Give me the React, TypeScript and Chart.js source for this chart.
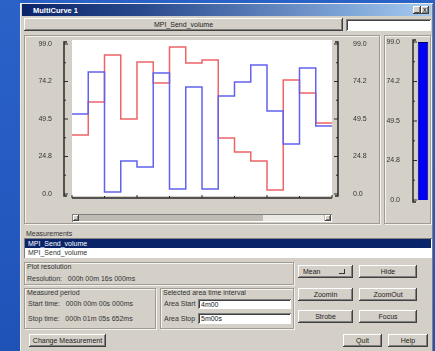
import React, { useEffect, useRef } from "react";
import { Chart, registerables } from "chart.js";

Chart.register(...registerables);

// ---- data ----
const stepTimeLabels = ["000h 00m 49s 852ms", "000h 01m 05s 852ms"];
const redValues = [38.9, 60.7, 91.7, 49.5, 87.1, 73.3, 97.0, 86.5, 88.4, 37.0, 27.7, 21.8, 2.6, 75.2, 66.7, 46.9];
const blueValues = [52.8, 80.5, 1.3, 21.8, 17.8, 79.9, 3.3, 70.6, 3.3, 64.7, 73.9, 85.1, 54.8, 33.0, 83.2, 44.9];
const yTickValues = [0, 24.75, 49.5, 74.25, 99];
const yTickLabels = ["0.0", "24.8", "49.5", "74.2", "99.0"];
const barCategories = ["MPI_Send_volume"];
const barValues = [99];

const FONT = "'Liberation Sans', Arial, sans-serif";
const GREY = "#d4d0c8";
const AXIS = "#2a2a2a";

function stepPoints(vals: number[]) {
  const pts = vals.map((v, i) => ({ x: i, y: v }));
  pts.push({ x: vals.length, y: vals[vals.length - 1] });
  return pts;
}

const noPad = (s: any) => {
  s.paddingTop = 0;
  s.paddingBottom = 0;
  s.paddingLeft = 0;
  s.paddingRight = 0;
};

const bracketPlugin = (opts: { lo: number; ro: number | null; bottom: boolean }) => ({
  id: "bracketAxes",
  beforeDatasetsDraw(chart: any) {
    const { ctx, chartArea } = chart;
    ctx.save();
    if (opts.bottom) {
      ctx.fillStyle = "#ffffff";
      ctx.fillRect(chartArea.left, chartArea.top, chartArea.right - chartArea.left, chartArea.bottom - chartArea.top);
    }
    ctx.restore();
  },
  afterDraw(chart: any) {
    const { ctx, chartArea } = chart;
    const y = chart.scales.y;
    const top = y.getPixelForValue(99);
    const bot = y.getPixelForValue(0);
    ctx.save();
    ctx.strokeStyle = AXIS;
    const drawBracket = (ax: number, dir: number) => {
      ctx.lineWidth = 1.5;
      ctx.beginPath();
      ctx.moveTo(ax + dir * 3, top - 2);
      ctx.lineTo(ax, top - 2);
      ctx.lineTo(ax, bot + 2);
      ctx.lineTo(ax + dir * 3, bot + 2);
      ctx.stroke();
      ctx.lineWidth = 1;
      for (let i = 0; i < yTickValues.length; i++) {
        const py = y.getPixelForValue(yTickValues[i]);
        ctx.beginPath();
        ctx.moveTo(ax, py);
        ctx.lineTo(ax + dir * 4, py);
        ctx.stroke();
        if (i < yTickValues.length - 1) {
          const pm = y.getPixelForValue((yTickValues[i] + yTickValues[i + 1]) / 2);
          ctx.beginPath();
          ctx.moveTo(ax, pm);
          ctx.lineTo(ax + dir * 2, pm);
          ctx.stroke();
        }
      }
    };
    drawBracket(chartArea.left - opts.lo, 1);
    if (opts.ro !== null) drawBracket(chartArea.right + opts.ro, -1);
    if (opts.bottom) {
      const x = chart.scales.x;
      const by = chartArea.bottom + 2;
      ctx.lineWidth = 1.5;
      ctx.beginPath();
      ctx.moveTo(chartArea.left, by);
      ctx.lineTo(chartArea.right, by);
      ctx.stroke();
      ctx.lineWidth = 1;
      for (let i = 0; i <= redValues.length; i += 2) {
        const px = x.getPixelForValue(i);
        ctx.beginPath();
        ctx.moveTo(px, by);
        ctx.lineTo(px, by - (i % 4 === 0 ? 3 : 2));
        ctx.stroke();
      }
    }
    ctx.restore();
  },
});

function MainChart() {
  const ref = useRef<HTMLCanvasElement>(null);
  useEffect(() => {
    const chart = new Chart(ref.current as HTMLCanvasElement, {
      type: "line",
      data: {
        datasets: [
          {
            label: "blue",
            data: stepPoints(blueValues),
            borderColor: "#6262ee",
            borderWidth: 1.5,
            pointRadius: 0,
            stepped: true,
            fill: false,
          },
          {
            label: "red",
            data: stepPoints(redValues),
            borderColor: "#ee6468",
            borderWidth: 1.5,
            pointRadius: 0,
            stepped: true,
            fill: false,
          },
        ],
      },
      options: {
        animation: false,
        responsive: false,
        maintainAspectRatio: false,
        layout: { padding: { top: 6, right: 0, left: 0, bottom: 0 } },
        plugins: { legend: { display: false }, tooltip: { enabled: false } },
        scales: {
          x: {
            type: "linear",
            min: 0,
            max: redValues.length,
            grid: { display: false },
            border: { display: false },
            afterBuildTicks: (s: any) => {
              s.ticks = [{ value: 0 }, { value: redValues.length }];
            },
            afterFit: (s: any) => {
              s.height = 14;
              noPad(s);
            },
            ticks: {
              align: "inner",
              padding: 7,
              maxRotation: 0,
              autoSkip: false,
              color: "#333",
              font: { family: FONT, size: 7 },
              callback: (_v: any, i: number) => stepTimeLabels[i],
            },
          },
          y: {
            position: "left",
            min: -1.32,
            max: 101.64,
            grid: { display: false },
            border: { display: false },
            afterBuildTicks: (s: any) => {
              s.ticks = yTickValues.map((v) => ({ value: v }));
            },
            afterFit: (s: any) => {
              s.width = 48;
              noPad(s);
            },
            ticks: {
              padding: 12,
              color: "#333",
              font: { family: FONT, size: 7 },
              callback: (_v: any, i: number) => yTickLabels[i],
            },
          },
          y2: {
            position: "right",
            min: -1.32,
            max: 101.64,
            grid: { display: false },
            border: { display: false },
            afterBuildTicks: (s: any) => {
              s.ticks = yTickValues.map((v) => ({ value: v }));
            },
            afterFit: (s: any) => {
              s.width = 48;
              noPad(s);
            },
            ticks: {
              padding: 13,
              color: "#333",
              font: { family: FONT, size: 7 },
              callback: (_v: any, i: number) => yTickLabels[i],
            },
          },
        },
      } as any,
      plugins: [bracketPlugin({ lo: 8, ro: 6, bottom: true }) as any],
    });
    return () => chart.destroy();
  }, []);
  return (
    <canvas
      ref={ref}
      width={356}
      height={176}
      style={{ position: "absolute", left: 24, top: 34, width: 356, height: 176 }}
    />
  );
}

function BarChart() {
  const ref = useRef<HTMLCanvasElement>(null);
  useEffect(() => {
    const chart = new Chart(ref.current as HTMLCanvasElement, {
      type: "bar",
      data: {
        labels: barCategories,
        datasets: [
          {
            data: barValues,
            backgroundColor: "#0000f4",
            borderColor: "#00006a",
            borderWidth: 1,
            categoryPercentage: 1,
            barPercentage: 0.75,
          },
        ],
      },
      options: {
        animation: false,
        responsive: false,
        maintainAspectRatio: false,
        layout: { padding: { top: 8, right: 1, left: 0, bottom: 6 } },
        plugins: { legend: { display: false }, tooltip: { enabled: false } },
        scales: {
          x: { display: false },
          y: {
            min: 0,
            max: 99,
            grid: { display: false },
            border: { display: false },
            afterBuildTicks: (s: any) => {
              s.ticks = yTickValues.map((v) => ({ value: v }));
            },
            afterFit: (s: any) => {
              s.width = 32;
              noPad(s);
            },
            ticks: {
              padding: 8,
              color: "#333",
              font: { family: FONT, size: 7 },
              callback: (_v: any, i: number) => yTickLabels[i],
            },
          },
        },
      } as any,
      plugins: [bracketPlugin({ lo: 3, ro: null, bottom: false }) as any],
    });
    return () => chart.destroy();
  }, []);
  return (
    <canvas
      ref={ref}
      width={47}
      height={172}
      style={{ position: "absolute", left: 384, top: 34, width: 47, height: 172 }}
    />
  );
}

const raised: React.CSSProperties = {
  background: GREY,
  boxShadow: "inset -1px -1px #404040, inset 1px 1px #ffffff, inset -2px -2px #808080",
};
const sunken: React.CSSProperties = {
  background: "#ffffff",
  boxShadow: "inset 1px 1px #808080, inset -1px -1px #ffffff, inset 2px 2px #404040",
};
const etched: React.CSSProperties = {
  border: "1px solid #a09c94",
  boxShadow: "1px 1px #f4f2ee, inset 1px 1px #f4f2ee",
};

function Btn(p: { x: number; y: number; w: number; h: number; label: string; menu?: boolean; align?: string }) {
  return (
    <div
      style={{
        ...raised,
        position: "absolute",
        left: p.x,
        top: p.y,
        width: p.w,
        height: p.h,
        fontSize: 7,
        lineHeight: p.h + "px",
        textAlign: (p.align as any) || "center",
        paddingLeft: p.align ? 5 : 0,
        boxSizing: "border-box",
        color: "#222",
      }}
    >
      {p.label}
      {p.menu ? (
        <span style={{ position: "absolute", right: 8, top: 4, width: 5, height: 4, borderRight: "1px solid #333", borderBottom: "1px solid #333" }} />
      ) : null}
    </div>
  );
}

function Txt(p: { x: number; y: number; t: string; c?: string; b?: boolean; s?: number }) {
  return (
    <div
      style={{
        position: "absolute",
        left: p.x,
        top: p.y,
        fontSize: p.s || 7,
        lineHeight: "9px",
        whiteSpace: "pre",
        color: p.c || "#333",
        fontWeight: p.b ? "bold" : "normal",
      }}
    >
      {p.t}
    </div>
  );
}

function Box(p: { x: number; y: number; w: number; h: number; style: React.CSSProperties }) {
  return (
    <div style={{ position: "absolute", left: p.x, top: p.y, width: p.w, height: p.h, boxSizing: "border-box", ...p.style }} />
  );
}

export default function App() {
  return (
    <div
      style={{
        position: "fixed",
        left: 0,
        top: 0,
        width: 435,
        height: 351,
        overflow: "hidden",
        background: "linear-gradient(180deg, #2a62c8 0%, #2459c0 60%, #1f52b6 100%)",
        fontFamily: FONT,
      }}
    >
      {/* window */}
      <Box x={20} y={3} w={413} h={352} style={{ background: GREY, boxShadow: "inset 1px 1px #efede8, inset -1px 0 #808080" }} />
      {/* title bar */}
      <Box x={22} y={4} w={409} h={12} style={{ background: "linear-gradient(90deg, #0a246a 0%, #2a4a8e 30%, #7fa6d8 80%, #a6caf0 100%)" }} />
      <Txt x={33} y={5.5} t="MultiCurve 1" c="#ffffff" b s={7.5} />
      <Box x={413} y={6} w={8} h={8} style={{ ...raised }} />
      <Box x={421} y={6} w={8} h={8} style={{ ...raised }} />
      <Txt x={415} y={4} t="_" c="#000" s={7} />
      <Txt x={423} y={4.5} t="x" c="#000" s={7} />

      {/* header */}
      <Btn x={24} y={18} w={319} h={13} label="MPI_Send_volume" />
      <Box x={346} y={19} w={85} h={12} style={sunken} />

      {/* chart panels */}
      <Box x={24} y={35} w={356} h={189} style={etched} />
      <Box x={384} y={35} w={47} h={189} style={etched} />
      <MainChart />
      <BarChart />
      {/* scrollbar */}
      <Box x={72} y={214} w={260} h={8} style={{ background: "#bdbab2", boxShadow: "inset 1px 1px #808080, inset -1px -1px #ffffff" }} />
      <Box x={263} y={215} w={61} h={6} style={{ background: "#ebe9e4" }} />
      <Box x={73} y={215} w={6} h={6} style={{ ...raised }} />
      <Box x={325} y={215} w={6} h={6} style={{ ...raised }} />

      {/* measurements */}
      <Txt x={26} y={229} t="Measurements" />
      <Box x={24} y={238} w={408} h={20} style={{ background: "#ffffff", boxShadow: "inset 1px 1px #808080" }} />
      <Box x={25} y={239} w={406} h={9} style={{ background: "#0a246a" }} />
      <Txt x={28} y={239} t="MPI_Send_volume" c="#ffffff" />
      <Txt x={28} y={248} t="MPI_Send_volume" c="#333" />

      {/* plot resolution */}
      <Box x={24} y={262} w={270} h={23} style={etched} />
      <Txt x={27} y={262} t="Plot resolution" />
      <Txt x={27} y={274} t="Resolution:   000h 00m 16s 000ms" />

      {/* measured period */}
      <Box x={24} y={288} w={132} h={41} style={etched} />
      <Txt x={27} y={288} t="Measured period" />
      <Txt x={28} y={299} t="Start time:   000h 00m 00s 000ms" />
      <Txt x={28} y={314} t="Stop time:   000h 01m 05s 652ms" />

      {/* selected area */}
      <Box x={160} y={288} w={134} h={41} style={etched} />
      <Txt x={163} y={288} t="Selected area time interval" />
      <Txt x={164} y={299} t="Area Start" />
      <Txt x={164} y={314} t="Area Stop" />
      <Box x={198} y={299} w={93} h={10} style={sunken} />
      <Box x={198} y={313} w={93} h={11} style={sunken} />
      <Txt x={201} y={299.5} t="4m00" c="#222" />
      <Txt x={201} y={314} t="5m00s" c="#222" />

      {/* buttons */}
      <Btn x={298} y={265} w={55} h={13} label="Mean" menu align="left" />
      <Btn x={359} y={265} w={58} h={13} label="Hide" />
      <Btn x={298} y={288} w={55} h={13} label="ZoomIn" />
      <Btn x={359} y={288} w={58} h={13} label="ZoomOut" />
      <Btn x={298} y={310} w={55} h={13} label="Strobe" />
      <Btn x={359} y={310} w={58} h={13} label="Focus" />
      <Btn x={29} y={334} w={77} h={13} label="Change Measurement" />
      <Btn x={343} y={334} w={39} h={13} label="Quit" />
      <Btn x={388} y={334} w={40} h={13} label="Help" />
    </div>
  );
}
